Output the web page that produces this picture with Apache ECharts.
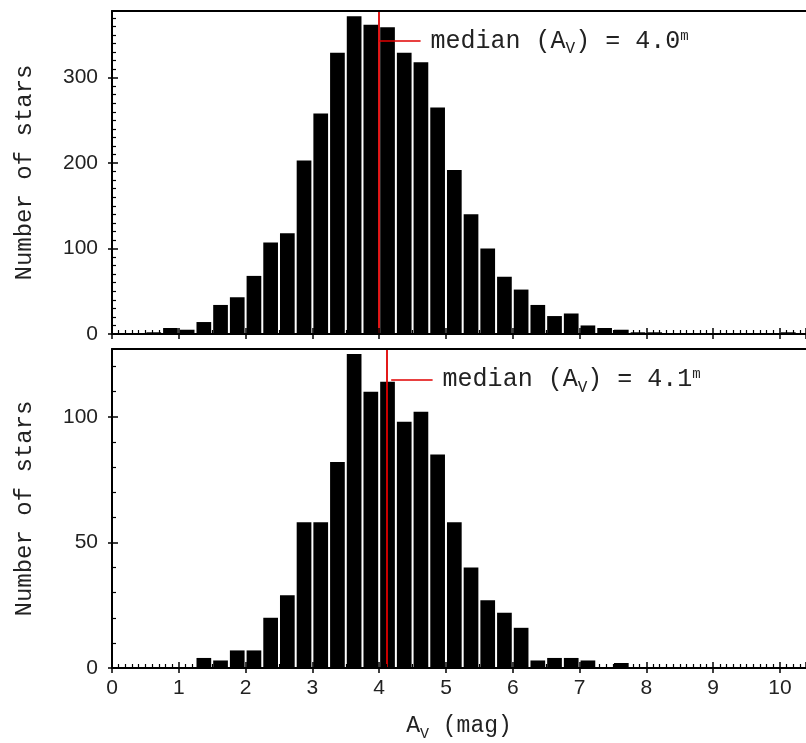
<!DOCTYPE html>
<html>
<head>
<meta charset="utf-8">
<script src="https://cdn.jsdelivr.net/npm/echarts@6/dist/echarts.min.js"></script>
<style>
html,body{margin:0;padding:0;background:#fff;}
#chart{width:806px;height:743px;}
</style>
</head>
<body>
<div id="chart"></div>
<script>
// ---- data ----
const binWidth = 0.25;
const binStarts = [0, 0.25, 0.5, 0.75, 1, 1.25, 1.5, 1.75, 2, 2.25, 2.5, 2.75, 3, 3.25, 3.5, 3.75,
  4, 4.25, 4.5, 4.75, 5, 5.25, 5.5, 5.75, 6, 6.25, 6.5, 6.75, 7, 7.25, 7.5, 7.75,
  8, 8.25, 8.5, 8.75, 9, 9.25, 9.5, 9.75, 10, 10.25];
const countsTop = [1, 1, 2, 7, 5, 14, 34, 43, 68, 107, 118, 203, 258, 329, 372, 362,
  359, 329, 318, 265, 192, 140, 100, 67, 52, 34, 21, 24, 10, 7, 5, 2,
  2, 1, 1, 1, 1, 1, 1, 1, 2, 1];
const countsBottom = [0, 0, 0, 0, 0, 4, 3, 7, 7, 20, 29, 58, 58, 82, 125, 110,
  114, 98, 102, 85, 58, 40, 27, 22, 16, 3, 4, 4, 3, 0, 2, 0,
  0, 0, 0, 0, 0, 0, 0, 0, 0, 0];
const medianTop = 4.0;
const medianBottom = 4.12;
const medianLabelTop = '4.0';
const medianLabelBottom = '4.1';
const xTicks = [0, 1, 2, 3, 4, 5, 6, 7, 8, 9, 10];
const yTicksTop = [0, 100, 200, 300];
const yTicksBottom = [0, 50, 100];

// ---- layout ----
const X_MIN = 0, X_MAX = 10.39;
const TOP_YMAX = 378, BOT_YMAX = 127;
const monoFont = '"Liberation Mono", "DejaVu Sans Mono", monospace';
const sansFont = '"Liberation Sans", Arial, sans-serif';
const RED = '#e00000';

const chart = echarts.init(document.getElementById('chart'), null, {renderer: 'canvas'});

function renderBar(params, api) {
  const x0 = api.value(0), h = api.value(1);
  if (!h) return null;
  const p0 = api.coord([x0, 0]);
  const p1 = api.coord([x0 + binWidth, h]);
  return {
    type: 'rect',
    shape: {x: p0[0] + 1, y: p1[1], width: p1[0] - p0[0] - 2, height: p0[1] - p1[1]},
    style: {fill: '#000'}
  };
}

function xAxesFor(g, showLabels) {
  const base = {gridIndex: g, type: 'value', min: X_MIN, max: X_MAX, interval: 1, splitLine: {show: false}};
  return [
    Object.assign({}, base, {
      position: 'bottom',
      axisLine: {show: true, onZero: false, lineStyle: {color: '#000', width: 2}},
      axisTick: {show: true, inside: false, length: 5, lineStyle: {color: '#000', width: 1.5}},
      axisLabel: {show: showLabels, margin: 10, fontFamily: sansFont, fontSize: 21, color: '#222',
        showMaxLabel: false,
        formatter: v => xTicks.indexOf(v) >= 0 ? String(v) : ''},
      name: showLabels ? '{n|A}{s|V}{n| (mag)}' : '',
      nameLocation: 'middle', nameGap: 46,
      nameTextStyle: {rich: {
        n: {fontFamily: monoFont, fontSize: 23, color: '#222', lineHeight: 28, verticalAlign: 'top'},
        s: {fontFamily: monoFont, fontSize: 15, color: '#222', lineHeight: 28, verticalAlign: 'bottom', padding: [10, 0, 0, 0]}
      }},
      z: 5
    }),
    Object.assign({}, base, {
      position: 'bottom',
      axisLine: {show: false, onZero: false},
      axisTick: {show: true, inside: true, length: 6, lineStyle: {color: '#000', width: 1.5}},
      minorTick: {show: true, splitNumber: 10, length: 4, lineStyle: {color: '#000', width: 1.2}},
      axisLabel: {show: false},
      z: 5
    }),
    Object.assign({}, base, {
      position: 'top',
      axisLine: {show: true, onZero: false, lineStyle: {color: '#000', width: 2}},
      axisTick: {show: false},
      axisLabel: {show: false},
      z: 5
    })
  ];
}

function yAxesFor(g, ymax, interval, minorSplit, ticks) {
  const base = {gridIndex: g, type: 'value', min: 0, max: ymax, interval: interval, splitLine: {show: false}};
  return [
    Object.assign({}, base, {
      position: 'left',
      axisLine: {show: true, onZero: false, lineStyle: {color: '#000', width: 2}},
      axisTick: {show: true, inside: false, length: 4, lineStyle: {color: '#000', width: 1.5}},
      axisLabel: {show: true, margin: 14, fontFamily: sansFont, fontSize: 21, color: '#222',
        showMaxLabel: false,
        formatter: v => ticks.indexOf(v) >= 0 ? String(v) : ''},
      name: 'Number of stars',
      nameLocation: 'middle', nameRotate: 90, nameGap: 75,
      nameTextStyle: {fontFamily: monoFont, fontSize: 24, color: '#222'},
      z: 5
    }),
    Object.assign({}, base, {
      position: 'left',
      axisLine: {show: false, onZero: false},
      axisTick: {show: true, inside: true, length: 6, lineStyle: {color: '#000', width: 1.5}},
      minorTick: {show: true, splitNumber: minorSplit, length: 4, lineStyle: {color: '#000', width: 1.2}},
      axisLabel: {show: false},
      z: 5
    })
  ];
}

function medianSeries(xi, yi, med, yMaxPanel, connStart, connY, connEnd, labelVal) {
  return {
    type: 'line', xAxisIndex: xi, yAxisIndex: yi, data: [], silent: true,
    markLine: {
      symbol: 'none', silent: true, animation: false,
      data: [
        [{coord: [med, 0], lineStyle: {color: RED, width: 1.8, type: 'solid'}, label: {show: false}},
         {coord: [med, yMaxPanel]}],
        [{coord: [connStart, connY], lineStyle: {color: RED, width: 1.5, type: 'solid'},
          label: {show: true, position: 'end', distance: 10,
            formatter: '{n|median (A}{s|V}{n|) = ' + labelVal + '}{p|m}',
            rich: {
              n: {fontFamily: monoFont, fontSize: 25, color: '#222', lineHeight: 32, verticalAlign: 'middle'},
              s: {fontFamily: monoFont, fontSize: 16, color: '#222', lineHeight: 32, verticalAlign: 'bottom'},
              p: {fontFamily: monoFont, fontSize: 14, color: '#222', lineHeight: 32, verticalAlign: 'top', padding: [4, 0, 0, 0]}
            }}},
         {coord: [connEnd, connY]}]
      ]
    },
    z: 6
  };
}

const xAxes = xAxesFor(0, false).concat(xAxesFor(1, true));
const yAxes = yAxesFor(0, TOP_YMAX, 100, 10, yTicksTop).concat(yAxesFor(1, BOT_YMAX, 50, 5, yTicksBottom));

const option = {
  backgroundColor: '#fff',
  animation: false,
  grid: [
    {left: 112, top: 11, right: 0, height: 323},
    {left: 112, top: 349, right: 0, height: 321}
  ],
  xAxis: xAxes,
  yAxis: yAxes,
  series: [
    {type: 'custom', xAxisIndex: 0, yAxisIndex: 0, renderItem: renderBar,
     data: binStarts.map((x, i) => [x, countsTop[i]]), clip: true, z: 2},
    {type: 'custom', xAxisIndex: 3, yAxisIndex: 2, renderItem: renderBar,
     data: binStarts.map((x, i) => [x, countsBottom[i]]), clip: true, z: 2},
    medianSeries(0, 0, medianTop, TOP_YMAX, medianTop, 343, 4.62, medianLabelTop),
    medianSeries(3, 2, medianBottom, BOT_YMAX, medianBottom + 0.06, 114.9, 4.8, medianLabelBottom)
  ]
};
chart.setOption(option);
</script>
</body>
</html>
